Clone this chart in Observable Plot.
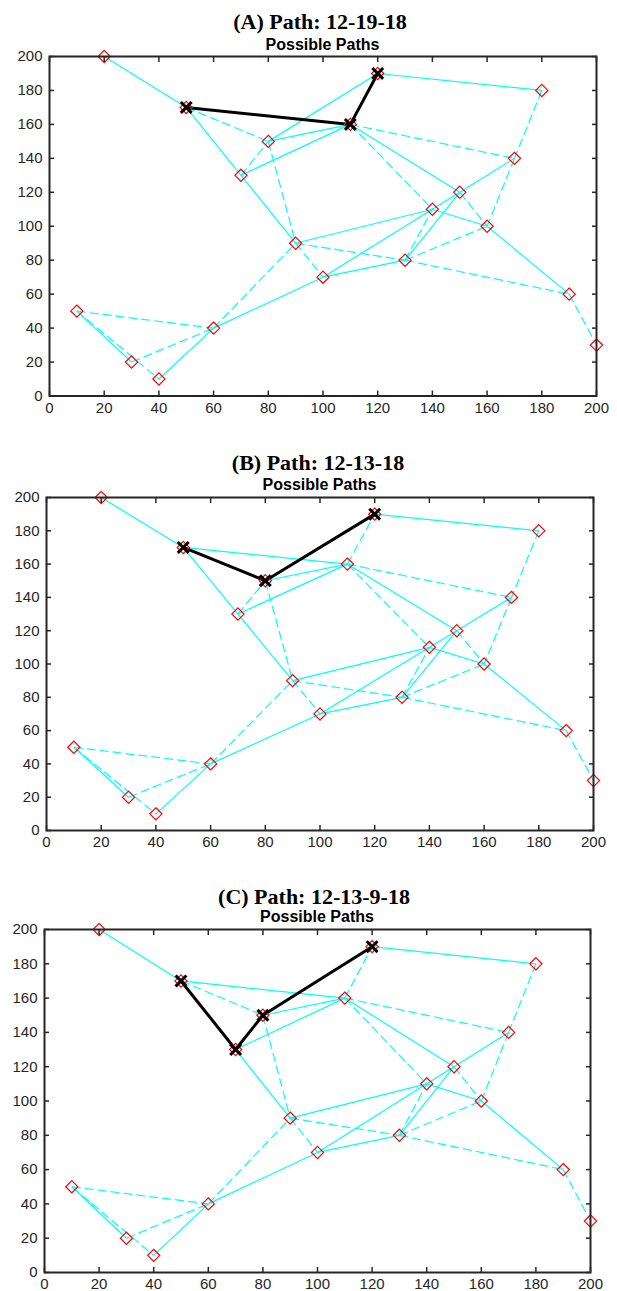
<!DOCTYPE html>
<html><head><meta charset="utf-8">
<script src="https://cdn.jsdelivr.net/npm/d3@7"></script>
<script src="https://cdn.jsdelivr.net/npm/@observablehq/plot@0.6"></script>
<style>
body{margin:0;background:#fff;}
#root{position:relative;width:617px;height:1291px;overflow:hidden;background:#fff;}
.t{position:absolute;font-family:"Liberation Serif","Times New Roman",serif;font-weight:bold;font-size:22px;line-height:1;color:#000;white-space:nowrap;transform:translate(-50%,-50%);}
.s{position:absolute;font-family:"Liberation Sans",Arial,sans-serif;font-weight:bold;font-size:16px;line-height:1;color:#000;white-space:nowrap;transform:translate(-50%,-50%);}
#root svg{position:absolute;left:0;}
</style></head><body><div id="root"></div>
<script>
// Node ids and coordinates
const nodeId = [1,2,3,4,5,6,7,8,9,10,11,12,13,14,15,16,17,18,19,20];
const nodeX  = [10,30,40,60,90,100,130,140,70,150,160,50,80,170,190,200,20,120,110,180];
const nodeY  = [50,20,10,40,90,70,80,110,130,120,100,170,150,140,60,30,200,190,160,180];

// Edges (pairs of node ids)
const solidEdges = [[17,12],[12,9],[12,19],[9,19],[9,5],[13,19],[13,18],[19,10],[18,20],[10,14],
  [8,10],[6,8],[5,8],[8,11],[7,10],[6,7],[11,15],[4,6],[3,4],[1,2]];
const dashedEdges = [[12,13],[9,13],[13,5],[5,6],[19,18],[19,14],[19,8],[10,11],[20,14],[14,11],
  [7,8],[7,11],[5,7],[7,15],[15,16],[4,5],[1,4],[2,4],[1,3]];

// Panels
const titles = ["(A) Path: 12-19-18", "(B) Path: 12-13-18", "(C) Path: 12-13-9-18"];
const subtitle = "Possible Paths";
const paths = [[12,19,18],[12,13,18],[12,9,13,18]];

// Tick values
const xTicks = [0,20,40,60,80,100,120,140,160,180,200];
const yTicks = [0,20,40,60,80,100,120,140,160,180,200];

const X = id => nodeX[nodeId.indexOf(id)];
const Y = id => nodeY[nodeId.indexOf(id)];

const layout = [
  {left:49, right:596, top:56, bottom:395.5, titleX:320, titleY:22, subY:45},
  {left:46, right:593, top:497, bottom:830, titleX:318, titleY:463, subY:485},
  {left:44, right:590, top:929, bottom:1272, titleX:314, titleY:897, subY:917}
];

const root = document.getElementById("root");
const axisColor = "#262626";
const tk = 5;

titles.forEach((title, i) => {
  const L = layout[i];
  const mt = 10, mb = 30;
  const H = L.bottom - L.top;
  const edgeOpts = {
    x1: e => X(e[0]), y1: e => Y(e[0]), x2: e => X(e[1]), y2: e => Y(e[1]),
    stroke: "#00ffff", strokeWidth: 1.2
  };
  const svg = Plot.plot({
    width: 617,
    height: mt + H + mb,
    marginLeft: L.left, marginRight: 617 - L.right,
    marginTop: mt, marginBottom: mb,
    x: {domain: [0, 200]},
    y: {domain: [0, 200]},
    style: {fontFamily: '"Liberation Sans", Arial, sans-serif', fontSize: "15px", color: axisColor, background: "transparent", overflow: "visible"},
    marks: [
      Plot.link(solidEdges, edgeOpts),
      Plot.link(dashedEdges, {...edgeOpts, strokeDasharray: "9,4"}),
      Plot.line(paths[i], {x: X, y: Y, stroke: "#000", strokeWidth: 3}),
      Plot.dot(nodeId, {x: X, y: Y, symbol: "diamond2", r: 5.5, stroke: "#ff0000", strokeWidth: 1.2, fill: "none"}),
      Plot.dot(paths[i], {x: X, y: Y, symbol: "times", r: 5, stroke: "#000", strokeWidth: 3}),
      Plot.frame({stroke: axisColor, strokeWidth: 2}),
      Plot.axisX({anchor: "bottom", ticks: xTicks, tickSize: tk, dy: -tk, tickFormat: () => "", label: null, strokeWidth: 1.5}),
      Plot.axisX({anchor: "top", ticks: xTicks, tickSize: tk, dy: tk, tickFormat: () => "", label: null, strokeWidth: 1.5}),
      Plot.axisY({anchor: "left", ticks: yTicks, tickSize: tk, dx: tk, tickFormat: () => "", label: null, strokeWidth: 1.5}),
      Plot.axisY({anchor: "right", ticks: yTicks, tickSize: tk, dx: -tk, tickFormat: () => "", label: null, strokeWidth: 1.5}),
      Plot.axisX({anchor: "bottom", ticks: xTicks, tickSize: 0, tickPadding: 6, label: null, fontSize: 15}),
      Plot.axisY({anchor: "left", ticks: yTicks, tickSize: 0, tickPadding: 7, label: null, fontSize: 15})
    ]
  });
  svg.style.top = (L.top - mt) + "px";
  root.appendChild(svg);

  const t = document.createElement("div");
  t.className = "t"; t.textContent = title;
  t.style.left = L.titleX + "px"; t.style.top = L.titleY + "px";
  root.appendChild(t);

  const s = document.createElement("div");
  s.className = "s"; s.textContent = subtitle;
  s.style.left = ((L.left + L.right) / 2) + "px"; s.style.top = L.subY + "px";
  root.appendChild(s);
});
</script></body></html>
